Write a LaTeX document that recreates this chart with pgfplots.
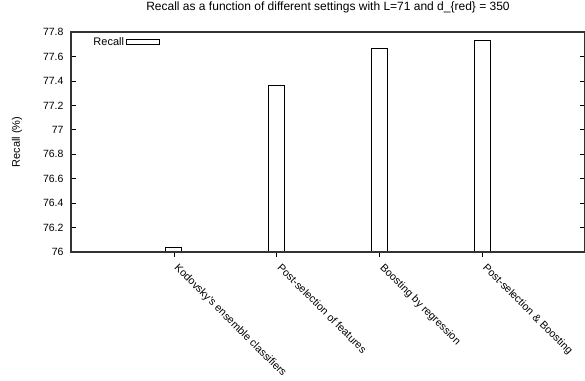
\documentclass[border=0pt]{standalone}
\usepackage{pgfplots}
\pgfplotsset{compat=1.18}
\usepackage{fontspec}
\setmainfont{Liberation Sans}
\begin{document}
\begin{tikzpicture}[font=\fontsize{11}{13}\selectfont]
\path[use as bounding box] (-71pt,-128pt) rectangle (514pt,252pt);
\begin{axis}[
  at={(0pt,0pt)}, anchor=south west,
  scale only axis, width=514pt, height=220pt,
  xmin=-1, xmax=4, ymin=76, ymax=77.8,
  ytick={76,76.2,...,77.81},
  xtick={0,1,2,3},
  xticklabels={Kodovsky’s ensemble classifiers, Post-selection of features, Boosting by regression, Post-selection \& Boosting},
  xtick pos=lower, ytick pos=both,
  tick align=inside, major tick length=5pt,
  tick style={line width=0.6pt, black},
  axis line style={line width=1.2pt, black!80},
  axis on top,
  /pgf/number format/assume math mode=true,
  yticklabel style={/pgf/number format/fixed, /pgf/number format/precision=1, xshift=-4pt, font=\fontsize{10.5}{12}\selectfont},
  xticklabel style={rotate=-45, anchor=north west, inner sep=0pt, xshift=8pt, yshift=0pt, font=\fontsize{10.7}{12}\selectfont},
  title={Recall as a function of different settings with L=71 and d\_\{red\} = 350},
  title style={at={(0.5,1)}, anchor=base, yshift=15.5pt, inner sep=0pt, font=\fontsize{12}{14}\selectfont},
  ylabel={Recall (\%)},
  ylabel style={at={(axis description cs:-0.105,0.5)}, anchor=center},
  ybar, bar width=16pt, bar shift=0pt,
  legend plot pos=right,
  legend cell align=right,
  legend style={draw=none, fill=none, inner sep=0pt, at={(axis description cs:0.173,0.985)}, anchor=north east},
  legend image code/.code={\draw[#1] (0pt,-2.5pt) rectangle (33pt,2.5pt);},
]
\addplot[draw=black, fill=white, line width=0.7pt] coordinates {(0,76.04) (1,77.36) (2,77.67) (3,77.73)};
\addlegendentry{Recall}
\end{axis}
\end{tikzpicture}
\end{document}
